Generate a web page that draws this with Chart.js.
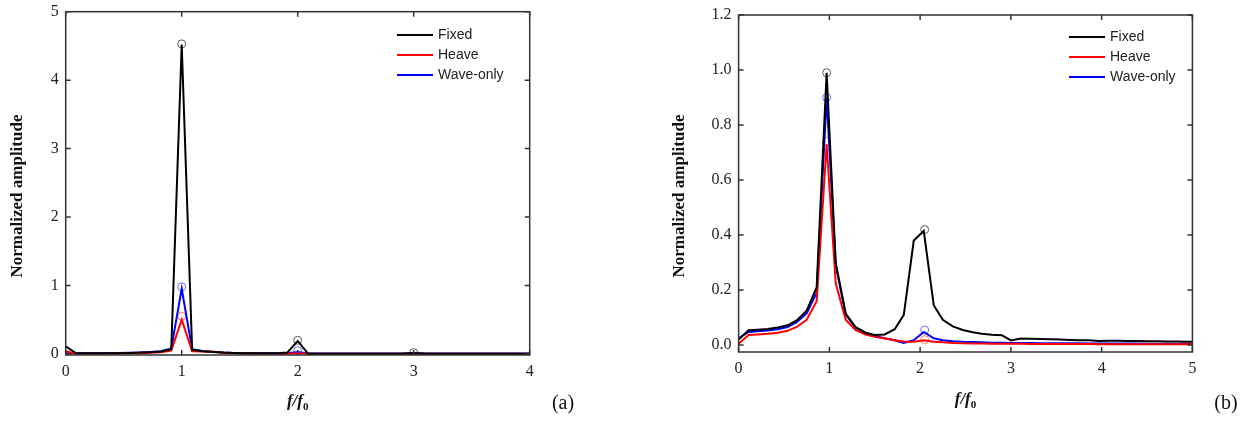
<!DOCTYPE html>
<html>
<head>
<meta charset="utf-8">
<script src="https://cdn.jsdelivr.net/npm/chart.js@4/dist/chart.umd.min.js"></script>
<style>
  body { margin: 0; background: #fff; }
  #wrapA { position: absolute; left: 0; top: 0; width: 600px; height: 425px; }
  #wrapB { position: absolute; left: 600px; top: 0; width: 657px; height: 425px; }
</style>
</head>
<body>
<div id="wrapA"><canvas id="chartA"></canvas></div>
<div id="wrapB"><canvas id="chartB"></canvas></div>
<script>
const seriesNames = ["Fixed", "Heave", "Wave-only"];
const seriesColors = ["#000000", "#ff0000", "#0000ff"];
const markerColors = ["#555555", "#ff7070", "#6b6bff"];

// (a)
const freqA = [0, 0.09, 0.18, 0.27, 0.36, 0.45, 0.55, 0.64, 0.73, 0.82, 0.91, 1.00, 1.09, 1.18, 1.27,
  1.36, 1.45, 1.55, 1.64, 1.73, 1.82, 1.91, 2.00, 2.09, 2.18, 2.27, 2.36, 2.45, 2.55, 2.64,
  2.73, 2.82, 2.91, 3.00, 3.09, 3.18, 3.27, 3.36, 3.45, 3.55, 3.64, 3.73, 3.82, 3.91, 4.00];
const fixedA = [0.11, 0.01, 0.01, 0.01, 0.01, 0.012, 0.015, 0.02, 0.025, 0.035, 0.07, 4.52, 0.06, 0.04, 0.03,
  0.02, 0.015, 0.012, 0.01, 0.01, 0.01, 0.02, 0.19, 0.005, 0.005, 0.005, 0.005, 0.005, 0.005, 0.005,
  0.005, 0.005, 0.006, 0.015, 0.006, 0.005, 0.005, 0.005, 0.005, 0.005, 0.005, 0.005, 0.005, 0.005, 0.005];
const heaveA = [0.04, 0.005, 0.005, 0.005, 0.006, 0.008, 0.01, 0.012, 0.018, 0.025, 0.05, 0.50, 0.04, 0.035, 0.035,
  0.015, 0.01, 0.008, 0.006, 0.005, 0.005, 0.005, 0.01, 0.005, 0.005, 0.005, 0.005, 0.005, 0.005, 0.005,
  0.005, 0.005, 0.005, 0.005, 0.005, 0.005, 0.005, 0.005, 0.005, 0.005, 0.005, 0.005, 0.005, 0.005, 0.005];
const waveA = [0.01, 0.01, 0.012, 0.012, 0.013, 0.015, 0.018, 0.022, 0.03, 0.04, 0.08, 0.95, 0.07, 0.045, 0.03,
  0.02, 0.015, 0.012, 0.01, 0.01, 0.01, 0.01, 0.03, 0.008, 0.007, 0.006, 0.006, 0.006, 0.006, 0.006,
  0.006, 0.006, 0.006, 0.006, 0.006, 0.006, 0.006, 0.006, 0.006, 0.006, 0.006, 0.006, 0.006, 0.006, 0.006];
const peaksA = [
  [{ x: 1.0, y: 4.53 }, { x: 2.0, y: 0.2 }, { x: 3.0, y: 0.02 }],
  [{ x: 1.0, y: 0.55 }],
  [{ x: 1.0, y: 0.98 }, { x: 2.0, y: 0.05 }],
];
const xTicksA = [0, 1, 2, 3, 4];
const yTicksA = [0, 1, 2, 3, 4, 5];

// (b)
const freqB = [0, 0.11, 0.21, 0.32, 0.43, 0.54, 0.64, 0.75, 0.86, 0.97, 1.07, 1.18, 1.29, 1.40, 1.50,
  1.61, 1.72, 1.82, 1.93, 2.04, 2.15, 2.25, 2.36, 2.47, 2.58, 2.68, 2.79, 2.90, 3.00, 3.11,
  3.22, 3.33, 3.43, 3.54, 3.65, 3.75, 3.86, 3.97, 4.08, 4.18, 4.29, 4.40, 4.51, 4.61, 4.72,
  4.83, 4.94, 5.00];
const fixedB = [0.02, 0.054, 0.056, 0.059, 0.064, 0.072, 0.09, 0.125, 0.21, 0.99, 0.30, 0.115, 0.065, 0.045, 0.037,
  0.039, 0.058, 0.11, 0.38, 0.415, 0.145, 0.092, 0.068, 0.055, 0.047, 0.041, 0.038, 0.036, 0.017, 0.024,
  0.023, 0.022, 0.021, 0.02, 0.019, 0.018, 0.018, 0.015, 0.016, 0.016, 0.015, 0.015, 0.014, 0.014, 0.013,
  0.013, 0.012, 0.012];
const heaveB = [0.005, 0.037, 0.039, 0.041, 0.045, 0.052, 0.066, 0.092, 0.16, 0.73, 0.225, 0.092, 0.054, 0.038, 0.03,
  0.024, 0.018, 0.013, 0.012, 0.018, 0.012, 0.01, 0.008, 0.007, 0.006, 0.006, 0.005, 0.005, 0.005, 0.005,
  0.004, 0.004, 0.004, 0.004, 0.004, 0.004, 0.004, 0.003, 0.003, 0.003, 0.003, 0.003, 0.003, 0.003, 0.003,
  0.003, 0.003, 0.003];
const waveB = [0.025, 0.048, 0.05, 0.053, 0.058, 0.066, 0.083, 0.115, 0.19, 0.90, 0.29, 0.11, 0.063, 0.043, 0.033,
  0.025, 0.018, 0.008, 0.018, 0.048, 0.025, 0.018, 0.014, 0.012, 0.011, 0.01, 0.009, 0.009, 0.008, 0.008,
  0.008, 0.007, 0.007, 0.007, 0.007, 0.007, 0.006, 0.006, 0.006, 0.006, 0.006, 0.006, 0.005, 0.005, 0.005,
  0.005, 0.005, 0.005];
const peaksB = [
  [{ x: 0.97, y: 0.99 }, { x: 2.05, y: 0.42 }],
  [{ x: 0.97, y: 0.74 }, { x: 2.05, y: 0.02 }],
  [{ x: 0.97, y: 0.90 }, { x: 2.05, y: 0.055 }],
];
const xTicksB = [0, 1, 2, 3, 4, 5];
const yTicksB = [0, 0.2, 0.4, 0.6, 0.8, 1.0, 1.2];

const serif = "'Liberation Serif', 'Times New Roman', serif";
const sans = "'Liberation Sans', Arial, sans-serif";

function pts(xs, ys) {
  return xs.map((x, i) => ({ x: x, y: ys[i] }));
}

// frame, inward ticks, axis titles, legend and panel label
const framePlugin = {
  id: "frame",
  afterDraw(chart, args, opts) {
    const c = chart.ctx;
    const a = chart.chartArea;
    const sx = chart.scales.x;
    const sy = chart.scales.y;
    c.save();
    c.strokeStyle = "#333";
    c.lineWidth = 1.5;
    c.strokeRect(a.left, a.top, a.right - a.left, a.bottom - a.top);
    c.beginPath();
    opts.xTicks.forEach((v) => {
      const px = sx.getPixelForValue(v);
      c.moveTo(px, a.bottom); c.lineTo(px, a.bottom - 5);
      c.moveTo(px, a.top); c.lineTo(px, a.top + 5);
    });
    opts.yTicks.forEach((v) => {
      const py = sy.getPixelForValue(v);
      c.moveTo(a.left, py); c.lineTo(a.left + 5, py);
      c.moveTo(a.right, py); c.lineTo(a.right - 5, py);
    });
    c.stroke();

    // y title
    c.fillStyle = "#111";
    c.font = "bold 17px " + serif;
    c.textAlign = "center";
    c.textBaseline = "middle";
    c.save();
    c.translate(opts.yTitleX, 196);
    c.rotate(-Math.PI / 2);
    c.fillText("Normalized amplitude", 0, 0);
    c.restore();

    // x title f/f0
    const cx = (a.left + a.right) / 2;
    c.font = "italic bold 17px " + serif;
    const w1 = c.measureText("f/f").width;
    c.font = "bold 11px " + serif;
    const w2 = c.measureText("0").width;
    const x0 = cx - (w1 + w2) / 2;
    c.textAlign = "left";
    c.font = "italic bold 17px " + serif;
    c.fillText("f/f", x0, opts.xTitleY);
    c.font = "bold 11px " + serif;
    c.fillText("0", x0 + w1, opts.xTitleY + 5);

    // panel label
    c.font = "20px " + serif;
    c.textAlign = "center";
    c.fillText(opts.panel, opts.panelX, 404);

    // legend
    c.font = "14px " + sans;
    c.textAlign = "left";
    seriesNames.forEach((name, i) => {
      const y = opts.legendY + i * 20;
      c.strokeStyle = seriesColors[i];
      c.lineWidth = 2;
      c.beginPath();
      c.moveTo(opts.legendX, y);
      c.lineTo(opts.legendX + 36, y);
      c.stroke();
      c.fillStyle = "#222";
      c.fillText(name, opts.legendX + 41, y);
    });
    c.restore();
  },
};

function makeChart(id, xs, series, peaks, xr, yr, xTicks, yTicks, yFmt, layout, extra) {
  const datasets = [];
  series.forEach((ys, i) => {
    datasets.push({
      label: seriesNames[i],
      data: pts(xs, ys),
      borderColor: seriesColors[i],
      borderWidth: 2,
      pointRadius: 0,
      tension: 0,
      fill: false,
    });
  });
  peaks.forEach((p, i) => {
    datasets.push({
      label: seriesNames[i] + " peak",
      data: p,
      showLine: false,
      pointRadius: 4,
      pointStyle: "circle",
      pointBorderWidth: 1,
      pointBorderColor: markerColors[i],
      pointBackgroundColor: "rgba(0,0,0,0)",
    });
  });
  return new Chart(document.getElementById(id), {
    type: "line",
    data: { datasets: datasets },
    options: {
      responsive: true,
      maintainAspectRatio: false,
      animation: false,
      layout: { padding: layout.padding },
      plugins: {
        legend: { display: false },
        tooltip: { enabled: false },
        frame: extra,
      },
      scales: {
        x: {
          type: "linear",
          min: xr[0],
          max: xr[1],
          afterFit: (s) => { s.height = layout.xh; s.paddingLeft = 0; s.paddingRight = 0; },
          afterBuildTicks: (s) => { s.ticks = xTicks.map((v) => ({ value: v })); },
          grid: { display: false, drawTicks: false },
          border: { display: false },
          ticks: { padding: 7, color: "#222", font: { family: serif, size: 16 } },
        },
        y: {
          min: yr[0],
          max: yr[1],
          afterFit: (s) => { s.width = layout.yw; s.paddingTop = 0; s.paddingBottom = 0; },
          afterBuildTicks: (s) => { s.ticks = yTicks.map((v) => ({ value: v })); },
          grid: { display: false, drawTicks: false },
          border: { display: false },
          ticks: { padding: 7, color: "#222", font: { family: serif, size: 16 }, callback: yFmt },
        },
      },
    },
    plugins: [framePlugin],
  });
}

makeChart("chartA", freqA, [fixedA, heaveA, waveA], peaksA, [0, 4], [-0.015, 5], xTicksA, yTicksA,
  (v) => String(v),
  { padding: { left: 0, right: 70.3, top: 11.7, bottom: 0 }, yw: 65.7, xh: 70 },
  { xTicks: xTicksA, yTicks: yTicksA, yTitleX: 18, xTitleY: 402, panel: "(a)", panelX: 563, legendX: 397, legendY: 35 });

makeChart("chartB", freqB, [fixedB, heaveB, waveB], peaksB, [0, 5], [-0.025, 1.2], xTicksB, yTicksB,
  (v) => v.toFixed(1),
  { padding: { left: 0, right: 64.6, top: 15, bottom: 0 }, yw: 138.6, xh: 73 },
  { xTicks: xTicksB, yTicks: yTicksB, yTitleX: 80, xTitleY: 400, panel: "(b)", panelX: 626, legendX: 469, legendY: 37 });
</script>
</body>
</html>
